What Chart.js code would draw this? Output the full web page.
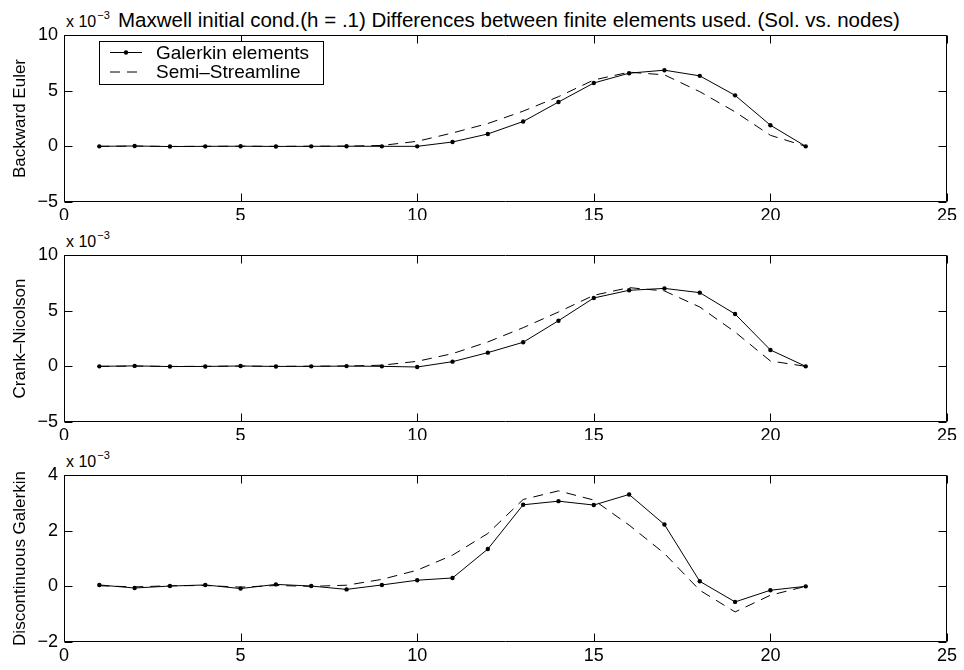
<!DOCTYPE html>
<html>
<head>
<meta charset="utf-8">
<script src="https://cdn.jsdelivr.net/npm/chart.js@4.4.1/dist/chart.umd.min.js"></script>
<style>
html,body{margin:0;padding:0;background:#fff;}
#wrap{position:relative;width:964px;height:670px;overflow:hidden;background:#fff;font-family:"Liberation Sans",Arial,Helvetica,sans-serif;color:#000;}
canvas{position:absolute;left:0;}
.mult{position:absolute;left:66px;font-size:16px;line-height:16px;white-space:nowrap;}
.mult .exp{font-size:11px;position:relative;top:-8px;margin-left:1px;}
#title{position:absolute;left:118px;top:10px;font-size:20.5px;line-height:20px;white-space:nowrap;}
</style>
</head>
<body>
<div id="wrap">
  <div id="title"></div>
  <div class="mult" style="top:14px">x 10<span class="exp">−3</span></div>
  <div class="mult" style="top:234px">x 10<span class="exp">−3</span></div>
  <div class="mult" style="top:454px">x 10<span class="exp">−3</span></div>
  <canvas id="c1" width="964" height="220" style="top:0px"></canvas>
  <canvas id="c2" width="964" height="220" style="top:220px"></canvas>
  <canvas id="c3" width="964" height="230" style="top:440px"></canvas>
</div>
<script>
// ---- data (values in units of 10^-3) ----
const xNodes = [1,2,3,4,5,6,7,8,9,10,11,12,13,14,15,16,17,18,19,20,21];
const beGalerkin = [0, 0.03, -0.02, 0, 0.01, -0.01, 0, 0.01, 0, 0, 0.39, 1.11, 2.23, 3.98, 5.69, 6.57, 6.84, 6.33, 4.58, 1.90, 0];
const beSemi     = [0, 0.02, -0.01, 0, 0.01, 0, 0.01, 0.02, 0.08, 0.45, 1.20, 2.05, 3.16, 4.46, 5.96, 6.66, 6.42, 4.91, 3.10, 0.99, 0];
const cnGalerkin = [0, 0.04, -0.02, -0.01, 0.03, -0.01, 0, 0.02, 0, -0.06, 0.42, 1.23, 2.16, 4.10, 6.14, 6.83, 7.00, 6.62, 4.70, 1.47, 0];
const cnSemi     = [0, 0.02, -0.01, 0, 0.02, 0, 0.01, 0.03, 0.10, 0.45, 1.14, 2.19, 3.47, 4.88, 6.38, 7.07, 6.77, 5.33, 3.08, 0.48, 0];
const dgGalerkin = [0.05, -0.06, 0.01, 0.05, -0.08, 0.07, 0.01, -0.11, 0.05, 0.22, 0.30, 1.34, 2.93, 3.06, 2.92, 3.30, 2.22, 0.18, -0.56, -0.14, 0];
const dgSemi     = [0.02, -0.02, 0.02, 0.03, -0.03, 0.03, 0.00, 0.04, 0.25, 0.58, 1.12, 1.90, 3.12, 3.43, 3.10, 2.20, 1.18, -0.14, -0.92, -0.32, 0];

const xTicks = [0, 5, 10, 15, 20, 25];
const yTicksEuler = [-5, 0, 5, 10];
const yTicksCN = [-5, 0, 5, 10];
const yTicksDG = [-2, 0, 2, 4];

const seriesNames = ['Galerkin elements', 'Semi–Streamline'];
const panelNames = ['Backward Euler', 'Crank–Nicolson', 'Discontinuous Galerkin'];
const titleText = 'Maxwell initial cond.(h = .1) Differences between finite elements used. (Sol. vs. nodes)';

document.getElementById('title').textContent = titleText;

const FONT = '"Liberation Sans", Arial, Helvetica, sans-serif';
const fmt = v => (v < 0 ? '\u2212' + Math.abs(v) : String(v));

// box + inward ticks + in-axes legend
const framePlugin = {
  id: 'frame',
  afterDatasetsDraw(chart, args, opts) {
    const ctx = chart.ctx;
    const a = chart.chartArea;
    const L = Math.round(a.left) + 0.5, R = Math.round(a.right) - 0.5;
    const T = Math.round(a.top) + 0.5, B = Math.round(a.bottom) - 0.5;
    const tl = 8;
    ctx.save();
    ctx.strokeStyle = '#000';
    ctx.lineWidth = 1;
    ctx.setLineDash([]);
    ctx.beginPath();
    ctx.rect(L, T, R - L, B - T);
    chart.scales.x.ticks.forEach(t => {
      const px = Math.round(chart.scales.x.getPixelForValue(t.value)) + 0.5;
      ctx.moveTo(px, B); ctx.lineTo(px, B - tl);
      ctx.moveTo(px, T); ctx.lineTo(px, T + tl);
    });
    chart.scales.y.ticks.forEach(t => {
      const py = Math.round(chart.scales.y.getPixelForValue(t.value)) + 0.5;
      ctx.moveTo(L, py); ctx.lineTo(L + tl, py);
      ctx.moveTo(R, py); ctx.lineTo(R - tl, py);
    });
    ctx.stroke();

    if (opts && opts.legend) {
      const bx = 99.5, by = 41.5, bw = 224, bh = 43;
      ctx.fillStyle = '#fff';
      ctx.fillRect(bx, by, bw, bh);
      ctx.strokeRect(bx, by, bw, bh);
      ctx.font = '19px ' + FONT;
      ctx.textBaseline = 'middle';
      ctx.textAlign = 'left';
      chart.data.datasets.forEach((ds, i) => {
        const y = 52.5 + i * 19.5;
        ctx.strokeStyle = ds.borderColor;
        ctx.lineWidth = ds.borderWidth;
        ctx.setLineDash(ds.borderDash || []);
        ctx.beginPath();
        ctx.moveTo(110, y); ctx.lineTo(142, y);
        ctx.stroke();
        ctx.setLineDash([]);
        if (ds.pointRadius > 0) {
          ctx.fillStyle = ds.pointBackgroundColor;
          ctx.beginPath();
          ctx.arc(126, y, ds.pointRadius, 0, Math.PI * 2);
          ctx.fill();
        }
        ctx.fillStyle = '#000';
        ctx.fillText(ds.label, 156, y + 1);
      });
    }
    ctx.restore();
  }
};

function makePanel(id, galerkin, semi, yTicks, name, legend, canvasH) {
  const xAxisH = canvasH - 35 - 167;
  return new Chart(document.getElementById(id), {
    type: 'line',
    data: {
      datasets: [
        {
          label: seriesNames[0],
          data: xNodes.map((x, i) => ({ x: x, y: galerkin[i] })),
          borderColor: '#000', borderWidth: 1, borderDash: [],
          pointRadius: 2.2, pointBackgroundColor: '#000', pointBorderWidth: 0,
          pointHoverRadius: 2.2, tension: 0, fill: false
        },
        {
          label: seriesNames[1],
          data: xNodes.map((x, i) => ({ x: x, y: semi[i] })),
          borderColor: '#000', borderWidth: 1, borderDash: [10, 7],
          pointRadius: 0, pointBackgroundColor: '#000', tension: 0, fill: false
        }
      ]
    },
    options: {
      responsive: false,
      animation: false,
      devicePixelRatio: 1,
      events: [],
      layout: { padding: { top: 35, right: 17, left: 0, bottom: 0 } },
      plugins: { legend: { display: false }, tooltip: { enabled: false }, frame: { legend: legend } },
      scales: {
        x: {
          type: 'linear', min: xTicks[0], max: xTicks[xTicks.length - 1],
          afterBuildTicks: s => { s.ticks = xTicks.map(v => ({ value: v })); },
          afterFit: s => { s.height = xAxisH; },
          grid: { display: false, drawTicks: false },
          border: { display: false },
          ticks: { color: '#000', font: { family: FONT, size: 18 }, padding: 3, maxRotation: 0, autoSkip: false, callback: v => fmt(v) }
        },
        y: {
          type: 'linear', min: yTicks[0], max: yTicks[yTicks.length - 1],
          afterBuildTicks: s => { s.ticks = yTicks.map(v => ({ value: v })); },
          afterFit: s => { s.width = 64; },
          grid: { display: false, drawTicks: false },
          border: { display: false },
          title: { display: true, text: name, color: '#000', font: { family: FONT, size: 17 }, padding: { top: 10, bottom: 0 } },
          ticks: { color: '#000', font: { family: FONT, size: 18 }, padding: 6, autoSkip: false, callback: v => fmt(v) }
        }
      }
    },
    plugins: [framePlugin]
  });
}

makePanel('c1', beGalerkin, beSemi, yTicksEuler, panelNames[0], true, 220);
makePanel('c2', cnGalerkin, cnSemi, yTicksCN, panelNames[1], false, 220);
makePanel('c3', dgGalerkin, dgSemi, yTicksDG, panelNames[2], false, 230);
</script>
</body>
</html>
